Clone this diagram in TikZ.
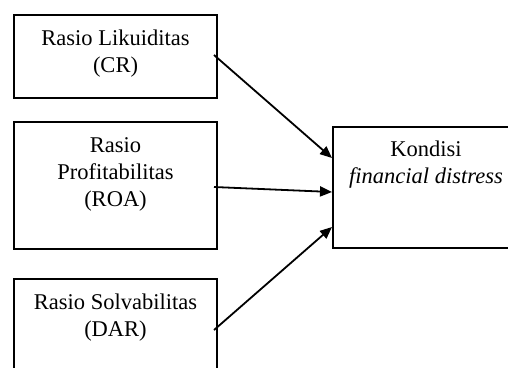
\documentclass[tikz,border=0pt]{standalone}
\usepackage{fontspec}
\setmainfont{Liberation Serif}
\usetikzlibrary{arrows.meta}

\begin{document}
\begin{tikzpicture}[x=1pt,y=1pt,
    box/.style={draw,line width=2pt,inner sep=0pt},
    lbl/.style={anchor=north,align=center,inner sep=0pt,
	font=\fontsize{22.5}{27}\selectfont},
    link/.style={line width=1.8pt,-{Triangle[length=12pt,width=10pt]}}]
\useasboundingbox (0,0) rectangle (508,-367);
\clip (0,0) rectangle (508,-367);
% the three ratio boxes on the left
\node [box,minimum width=203pt,minimum height=83pt]  (cr)  at (115.5,-56.5) {};
\node [box,minimum width=203pt,minimum height=127pt] (roa) at (115.5,-185.5) {};
\node [box,minimum width=203pt,minimum height=102pt] (dar) at (115.5,-330) {};
% the outcome box on the right
\node [box,minimum width=186pt,minimum height=121pt] (fd)  at (426,-187.5) {};
\path
    ([yshift=-16pt]cr.north)  node (crtext)  [lbl] {Rasio Likuiditas\\(CR)}
    ([yshift=-16pt]roa.north) node (roatext) [lbl] {Rasio\\Profitabilitas\\(ROA)}
    ([yshift=-16pt]dar.north) node (dartext) [lbl] {Rasio Solvabilitas\\(DAR)}
    ([yshift=-14.5pt]fd.north) node (fdtext) [lbl] {Kondisi\\\textit{financial distress}};
\draw [link] ([xshift=-4pt,yshift=1.5pt]cr.east) -- ([yshift=29.5pt]fd.west);
\draw [link] ([xshift=-4pt,yshift=-1.5pt]roa.east) -- ([yshift=-4.5pt]fd.west);
\draw [link] ([xshift=-4pt]dar.east) -- ([yshift=-39.5pt]fd.west);
\end{tikzpicture}
\end{document}
